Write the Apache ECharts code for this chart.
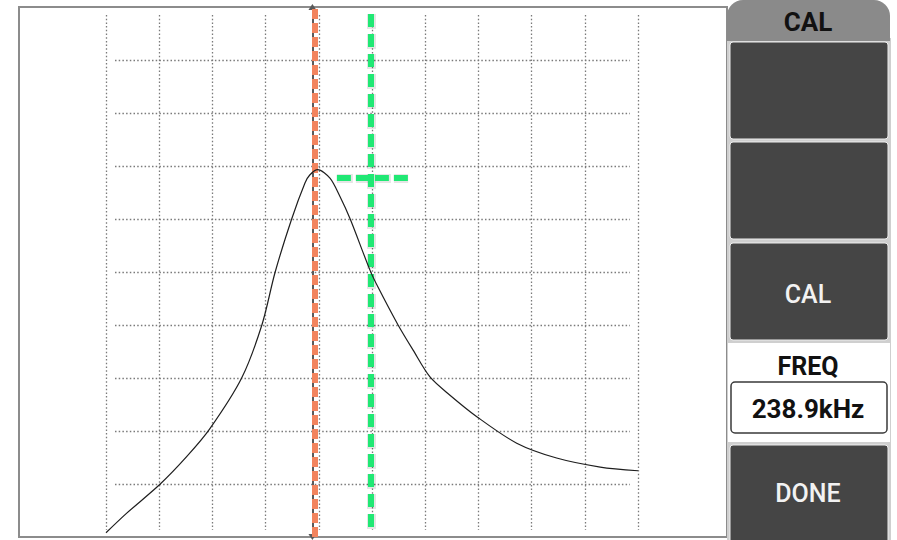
<!DOCTYPE html>
<html>
<head>
<meta charset="utf-8">
<title>CAL</title>
<script src="https://cdn.jsdelivr.net/npm/echarts@6/dist/echarts.min.js"></script>
<style>
  html, body { margin: 0; padding: 0; background: #fff; }
  #chart { width: 897px; height: 540px; }
</style>
</head>
<body>
<div id="chart"></div>
<script>
// response curve, in screen divisions (10 x 10)
const freqDiv = [0, 0.39, 1.02, 1.52, 1.95, 2.55, 2.93, 3.18, 3.49, 3.74, 3.83, 3.98,
  4.21, 4.40, 4.59, 4.96, 5.11, 5.49, 5.77, 6.09, 6.46, 6.97, 7.72, 8.47, 9.29, 10]
const amplitude = [0.08, 0.45, 1.0, 1.52, 2.04, 3.0, 4.0, 5.0, 6.0, 6.68, 6.83, 6.93,
  6.77, 6.42, 6.0, 5.04, 4.72, 4.0, 3.53, 3.02, 2.68, 2.27, 1.77, 1.49, 1.32, 1.25]

// cursors
const refCursorX = 3.93
const measCursorX = 4.98
const measCursorSpan = [0.13, 9.87]
const measLevel = 6.77
const measLevelSpan = [4.34, 5.68]

// side menu
const menuTitle = 'CAL'
const menuButtons = ['', '', 'CAL']
const freqLabel = 'FREQ'
const freqValue = '238.9kHz'
const doneLabel = 'DONE'

const chart = echarts.init(document.getElementById('chart'), null, { renderer: 'svg' })

const curve = freqDiv.map((x, i) => [x, amplitude[i]])

const dotted = { color: '#7a7a7a', width: 1.3, type: [1.5, 2.2] }
const font = 'Roboto, "DejaVu Sans", sans-serif'
const btnColor = '#454545'
const green = '#20e874'

const buttonTops = [42, 142, 243]
const graphic = [
  // plot frame
  { type: 'rect', z: 0, shape: { x: 19, y: 7, width: 708, height: 530 },
    style: { fill: 'none', stroke: '#8c8c8c', lineWidth: 2 } },
  // menu column background
  { type: 'rect', z: 0, shape: { x: 727, y: 38, width: 164, height: 502 },
    style: { fill: '#cfcfcf' } },
  { type: 'rect', z: 1, shape: { x: 727, y: 0, width: 163, height: 41, r: [16, 16, 0, 0] },
    style: { fill: '#8a8a8a' } },
  { type: 'text', z: 2, x: 808, y: 22,
    style: { text: menuTitle, fill: '#111', font: 'bold 26px ' + font, align: 'center', verticalAlign: 'middle' } }
]
menuButtons.forEach((label, i) => {
  graphic.push({ type: 'rect', z: 1, shape: { x: 730, y: buttonTops[i], width: 158, height: 97, r: 3 },
    style: { fill: btnColor, stroke: '#eeeeee', lineWidth: 1 } })
  if (label) {
    graphic.push({ type: 'text', z: 2, x: 808, y: buttonTops[i] + 51,
      style: { text: label, fill: '#f2f2f2', font: '500 25px ' + font, align: 'center', verticalAlign: 'middle' } })
  }
})
graphic.push(
  { type: 'rect', z: 1, shape: { x: 728, y: 343, width: 162, height: 99 }, style: { fill: '#fff' } },
  { type: 'text', z: 2, x: 808, y: 366,
    style: { text: freqLabel, fill: '#111', font: 'bold 25px ' + font, align: 'center', verticalAlign: 'middle' } },
  { type: 'rect', z: 2, shape: { x: 731, y: 382, width: 156, height: 51, r: 4 },
    style: { fill: '#fff', stroke: '#3a3a3a', lineWidth: 1.5 } },
  { type: 'text', z: 3, x: 808, y: 409,
    style: { text: freqValue, fill: '#111', font: 'bold 26px ' + font, align: 'center', verticalAlign: 'middle' } },
  { type: 'rect', z: 1, shape: { x: 730, y: 445, width: 158, height: 100, r: 3 },
    style: { fill: btnColor, stroke: '#eeeeee', lineWidth: 1 } },
  { type: 'text', z: 2, x: 808, y: 493,
    style: { text: doneLabel, fill: '#f2f2f2', font: '500 25px ' + font, align: 'center', verticalAlign: 'middle' } }
)

const hidden = { show: false }

function cursorSeries(name, z, style, lines) {
  return {
    name: name,
    type: 'line',
    data: [],
    z: z,
    markLine: {
      silent: true,
      symbol: 'none',
      label: hidden,
      animation: false,
      lineStyle: style,
      emphasis: { disabled: true },
      data: lines
    }
  }
}

const measVertical = [[{ coord: [measCursorX, measCursorSpan[1]] }, { coord: [measCursorX, measCursorSpan[0]] }]]
const measHorizontal = [[{ coord: [measLevelSpan[0], measLevel] }, { coord: [measLevelSpan[1], measLevel] }]]

const option = {
  backgroundColor: '#fff',
  animation: false,
  grid: [
    { left: 106, right: 259, top: 7, bottom: 3 },
    { left: 106, right: 259, top: 15, bottom: 10 },
    { left: 115, right: 267, top: 7, bottom: 3 }
  ],
  xAxis: [
    { type: 'value', gridIndex: 0, min: 0, max: 10, show: false },
    { type: 'value', gridIndex: 1, min: 0, max: 10, interval: 1,
      axisLine: hidden, axisTick: hidden, axisLabel: hidden,
      splitLine: { show: true, showMinLine: true, showMaxLine: true, lineStyle: dotted } },
    { type: 'value', gridIndex: 2, min: 0, max: 10, show: false }
  ],
  yAxis: [
    { type: 'value', gridIndex: 0, min: 0, max: 10, show: false },
    { type: 'value', gridIndex: 1, min: 0, max: 10, show: false },
    { type: 'value', gridIndex: 2, min: 0, max: 10, interval: 1,
      axisLine: hidden, axisTick: hidden, axisLabel: hidden,
      splitLine: { show: true, showMinLine: false, showMaxLine: false, lineStyle: dotted } }
  ],
  graphic: graphic,
  series: [
    {
      name: 'response',
      type: 'line',
      xAxisIndex: 0,
      yAxisIndex: 0,
      data: curve,
      smooth: 0.3,
      showSymbol: false,
      z: 5,
      lineStyle: { color: '#1e1e1e', width: 1.2 }
    },
    {
      name: 'refBase',
      type: 'line',
      data: [],
      z: 6,
      markLine: {
        silent: true,
        symbol: ['triangle', 'triangle'],
        symbolSize: [8, 6],
        label: hidden,
        emphasis: { disabled: true },
        lineStyle: { color: '#5a5a5a', width: 2, type: 'solid' },
        data: [[{ coord: [refCursorX - 0.05, 0] }, { coord: [refCursorX - 0.05, 10] }]]
      }
    },
    cursorSeries('refCursor', 7, { color: '#f2845e', width: 6, type: [10, 4] },
      [[{ coord: [refCursorX, 0] }, { coord: [refCursorX, 10] }]]),
    // soft halo under the green cursor
    cursorSeries('measHalo', 8, { color: 'rgba(0,0,0,0.10)', width: 9, type: [15, 5] }, measVertical),
    cursorSeries('measLevelHalo', 8, { color: 'rgba(0,0,0,0.10)', width: 9, type: [16, 3] }, measHorizontal),
    cursorSeries('measCursor', 9, { color: green, width: 6, type: [13, 7] }, measVertical),
    cursorSeries('measLevel', 9, { color: green, width: 6, type: [14, 5] }, measHorizontal)
  ]
}
chart.setOption(option)
</script>
</body>
</html>
